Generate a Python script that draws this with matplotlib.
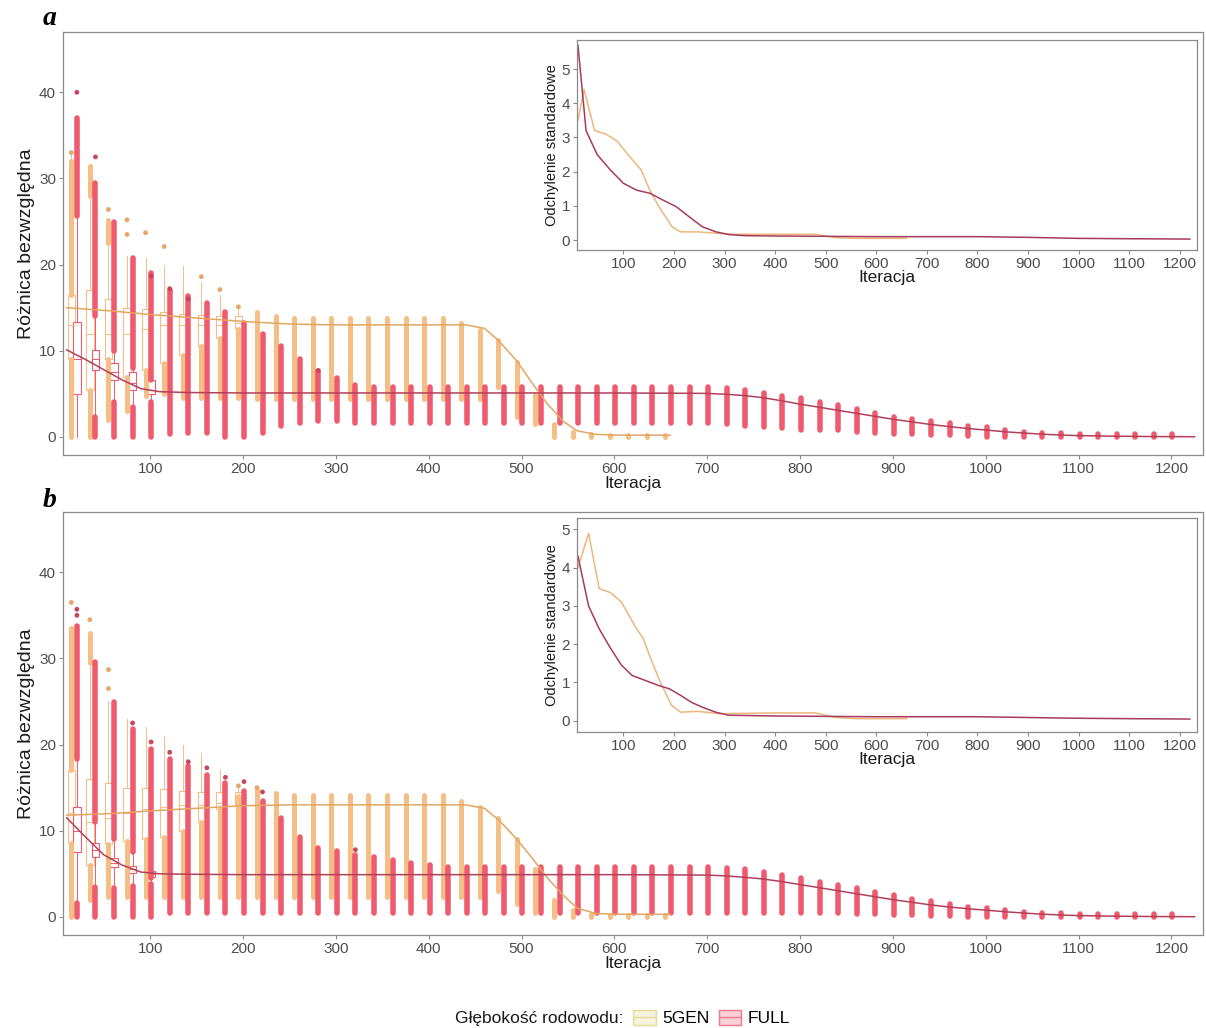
import numpy as np
import matplotlib
matplotlib.use("Agg")
import matplotlib.pyplot as plt
from matplotlib.patches import Patch
from matplotlib.lines import Line2D
from matplotlib.legend_handler import HandlerTuple

plt.rcParams['font.family'] = ['Liberation Sans', 'DejaVu Sans']

# ── dane ──────────────────────────────────────────────────────────────────
GROUPS = ['5GEN', 'FULL']
ITER_FULL = np.arange(20, 1201, 20)
ITER_5GEN = np.arange(20, 661, 20)

# panel a – FULL: zakres gęstych punktów odstających (góra / dół)
A_FULL_TOP = [37.0, 29.5, 25.0, 20.8, 19.0, 17.0, 16.3, 15.5, 14.5, 13.2,
              12.0, 10.5, 9.0, 7.6, 6.8, 6.0, 5.8, 5.8, 5.8, 5.8,
              5.8, 5.8, 5.8, 5.8, 5.8, 5.8, 5.8, 5.8, 5.8, 5.8,
              5.8, 5.8, 5.8, 5.8, 5.8, 5.7, 5.4, 5.1, 4.7, 4.5,
              4.1, 3.7, 3.2, 2.8, 2.3, 2.1, 1.9, 1.6, 1.3, 1.2,
              0.8, 0.6, 0.5, 0.4, 0.35, 0.35, 0.3, 0.3, 0.3, 0.3]
A_FULL_BOT = [25.6, 0.0, 0.0, 0.0, 0.0, 0.3, 0.5, 0.5, 0.0, 0.0,
              0.5, 1.3, 1.6, 1.8, 1.8, 1.6, 1.6, 1.6, 1.6, 1.6,
              1.6, 1.6, 1.6, 1.6, 1.6, 1.6, 1.6, 1.6, 1.6, 1.6,
              1.6, 1.6, 1.6, 1.6, 1.6, 1.5, 1.3, 1.2, 1.0, 0.8,
              0.8, 0.8, 0.6, 0.4, 0.3, 0.3, 0.2, 0.2, 0.1, 0.0,
              0.0, 0.0, 0.0, 0.0, 0.0, 0.0, 0.0, 0.0, 0.0, 0.0]
A_FULL_GAP_ITER = [40, 60, 80, 100]
A_FULL_GAP_LO = [2.3, 4.0, 3.5, 4.0]
A_FULL_GAP_HI = [14.0, 10.0, 8.0, 6.6]
A_FULL_DOT_ITER = [20, 40, 100, 120, 140, 280]
A_FULL_DOT_VAL = [40.0, 32.5, 18.7, 17.2, 16.0, 7.7]
A_FULL_BOX_ITER = [20, 40, 60, 80, 100]
A_FULL_Q1 = [5.0, 7.8, 6.6, 5.5, 5.0]
A_FULL_MED = [9.0, 9.0, 7.5, 6.3, 5.5]
A_FULL_Q3 = [13.3, 10.1, 8.6, 7.5, 6.6]
A_FULL_WLO = [0.0, 2.3, 4.0, 3.5, 4.0]
A_FULL_WHI = [25.6, 14.0, 10.0, 8.0, 6.6]

# panel a – 5GEN
A_5GEN_TOP = [32.0, 31.5, 25.2, 7.0, 7.8, 8.6, 9.5, 10.5, 11.5, 12.5,
              14.5, 14.0, 13.8, 13.8, 13.8, 13.8, 13.8, 13.8, 13.8, 13.8,
              13.8, 13.2, 12.4, 11.3, 8.7, 5.0, 1.5, 0.6, 0.3, 0.2,
              0.2, 0.2, 0.2]
A_5GEN_BOT = [0.0, 0.0, 2.0, 3.0, 4.7, 5.0, 4.5, 4.5, 4.5, 4.5,
              4.4, 4.4, 4.4, 4.4, 4.4, 4.4, 4.4, 4.4, 4.4, 4.4,
              4.4, 4.4, 4.4, 5.8, 2.3, 1.5, 0.0, 0.0, 0.0, 0.0,
              0.0, 0.0, 0.0]
A_5GEN_GAP_ITER = [20, 40, 60]
A_5GEN_GAP_LO = [9.0, 5.5, 9.0]
A_5GEN_GAP_HI = [16.5, 28.0, 22.5]
A_5GEN_DOT_ITER = [20, 60, 80, 80, 100, 120, 160, 180, 200]
A_5GEN_DOT_VAL = [33.0, 26.4, 25.2, 23.5, 23.7, 22.1, 18.6, 17.1, 15.1]
A_5GEN_BOX_ITER = [20, 40, 60, 80, 100, 120, 140, 160, 180, 200]
A_5GEN_Q1 = [9.0, 5.5, 9.0, 7.0, 7.8, 8.6, 9.5, 10.5, 11.5, 12.5]
A_5GEN_MED = [13.0, 12.0, 12.0, 12.0, 12.5, 13.0, 13.0, 13.0, 13.0, 13.2]
A_5GEN_Q3 = [16.5, 17.0, 16.0, 15.0, 14.8, 14.5, 14.3, 14.2, 14.0, 14.0]
A_5GEN_WLO = [0.0, 0.0, 2.0, 3.0, 4.7, 5.0, 4.5, 4.5, 4.5, 4.5]
A_5GEN_WHI = [33.0, 28.0, 22.5, 21.0, 20.8, 20.0, 19.8, 18.0, 16.5, 15.0]

# panel b – FULL
B_FULL_TOP = [33.8, 29.6, 24.9, 21.8, 19.5, 18.3, 17.5, 16.5, 15.5, 14.6,
              13.4, 11.5, 9.3, 8.0, 7.6, 7.2, 7.0, 6.6, 6.3, 6.0,
              5.8, 5.8, 5.8, 5.8, 5.8, 5.8, 5.8, 5.8, 5.8, 5.8,
              5.8, 5.8, 5.8, 5.8, 5.8, 5.7, 5.5, 5.2, 4.9, 4.5,
              4.1, 3.7, 3.3, 2.9, 2.5, 2.1, 1.8, 1.5, 1.2, 1.0,
              0.8, 0.6, 0.5, 0.4, 0.35, 0.3, 0.3, 0.3, 0.3, 0.3]
B_FULL_BOT = [0.0, 0.0, 0.0, 0.0, 0.0, 0.5, 0.5, 0.5, 0.5, 0.5,
              0.5, 0.5, 0.5, 0.5, 0.5, 0.5, 0.5, 0.5, 0.5, 0.5,
              0.5, 0.5, 0.5, 0.5, 0.5, 0.5, 0.5, 0.5, 0.5, 0.5,
              0.5, 0.5, 0.5, 0.5, 0.5, 0.5, 0.5, 0.5, 0.5, 0.4,
              0.4, 0.4, 0.3, 0.3, 0.2, 0.2, 0.1, 0.1, 0.0, 0.0,
              0.0, 0.0, 0.0, 0.0, 0.0, 0.0, 0.0, 0.0, 0.0, 0.0]
B_FULL_GAP_ITER = [20, 40, 60, 80, 100]
B_FULL_GAP_LO = [1.6, 3.5, 3.3, 3.6, 3.8]
B_FULL_GAP_HI = [18.3, 11.0, 9.0, 7.5, 4.5]
B_FULL_DOT_ITER = [20, 20, 80, 100, 120, 140, 160, 180, 200, 220, 320]
B_FULL_DOT_VAL = [35.7, 35.0, 22.5, 20.3, 19.1, 18.0, 17.3, 16.2, 15.7, 14.5, 7.8]
B_FULL_BOX_ITER = [20, 40, 60, 80, 100]
B_FULL_Q1 = [7.5, 7.0, 5.8, 5.1, 4.6]
B_FULL_MED = [10.0, 7.8, 6.3, 5.5, 5.0]
B_FULL_Q3 = [12.8, 8.6, 6.8, 5.9, 5.3]
B_FULL_WLO = [1.6, 3.5, 3.3, 3.6, 3.8]
B_FULL_WHI = [18.3, 11.0, 9.0, 7.5, 4.5]

# panel b – 5GEN
B_5GEN_TOP = [33.5, 33.0, 8.5, 8.8, 9.0, 9.3, 10.0, 11.0, 12.5, 14.0,
              14.8, 14.4, 14.2, 14.2, 14.2, 14.2, 14.2, 14.2, 14.2, 14.2,
              14.2, 13.4, 12.7, 11.5, 9.0, 5.5, 2.0, 0.8, 0.3, 0.2,
              0.2, 0.2, 0.2]
B_5GEN_BOT = [0.0, 2.0, 2.3, 2.3, 2.3, 2.3, 2.3, 2.3, 2.3, 2.3,
              2.3, 2.3, 2.3, 2.3, 2.3, 2.3, 2.3, 2.3, 2.3, 2.3,
              2.3, 2.3, 2.3, 3.0, 1.5, 0.5, 0.0, 0.0, 0.0, 0.0,
              0.0, 0.0, 0.0]
B_5GEN_GAP_ITER = [20, 40]
B_5GEN_GAP_LO = [8.6, 6.0]
B_5GEN_GAP_HI = [17.0, 29.5]
B_5GEN_DOT_ITER = [20, 40, 60, 60, 200, 220]
B_5GEN_DOT_VAL = [36.5, 34.5, 28.7, 26.5, 15.2, 15.0]
B_5GEN_BOX_ITER = [20, 40, 60, 80, 100, 120, 140, 160, 180, 200]
B_5GEN_Q1 = [8.6, 6.0, 8.5, 8.8, 9.0, 9.3, 10.0, 11.0, 12.5, 13.0]
B_5GEN_MED = [12.0, 11.0, 11.5, 12.0, 12.5, 12.8, 13.0, 13.0, 13.2, 13.5]
B_5GEN_Q3 = [17.0, 16.0, 15.5, 15.0, 15.0, 14.8, 14.6, 14.5, 14.5, 14.5]
B_5GEN_WLO = [0.0, 2.0, 2.3, 2.3, 2.3, 2.3, 2.3, 2.3, 2.3, 2.3]
B_5GEN_WHI = [33.5, 29.6, 25.0, 23.0, 22.0, 21.0, 20.0, 19.0, 17.0, 15.5]

# linie średnich
FULL_LINE_ITER = [10, 30, 50, 70, 90, 110, 140, 200, 300, 400,
                  500, 600, 700, 720, 740, 760, 780, 800, 820, 840,
                  860, 880, 900, 920, 940, 960, 980, 1000, 1020, 1040,
                  1060, 1080, 1100, 1140, 1180, 1225]
A_FULL_LINE = [10.1, 9.0, 7.8, 6.6, 5.6, 5.25, 5.15, 5.1, 5.1, 5.1,
               5.1, 5.1, 5.05, 4.95, 4.8, 4.55, 4.2, 3.8, 3.45, 3.1,
               2.75, 2.4, 2.05, 1.75, 1.45, 1.2, 0.98, 0.8, 0.6, 0.45,
               0.32, 0.22, 0.15, 0.08, 0.04, 0.02]
B_FULL_LINE = [11.5, 9.3, 7.2, 6.0, 5.2, 5.0, 4.95, 4.9, 4.9, 4.9,
               4.9, 4.9, 4.85, 4.75, 4.6, 4.4, 4.1, 3.75, 3.4, 3.05,
               2.7, 2.35, 2.0, 1.7, 1.4, 1.15, 0.95, 0.78, 0.6, 0.45,
               0.32, 0.22, 0.15, 0.08, 0.04, 0.02]
GEN5_LINE_ITER = [10, 60, 100, 150, 200, 250, 300, 440, 460, 475,
                  495, 513, 528, 545, 560, 580, 600, 660]
A_5GEN_LINE = [15.0, 14.6, 14.2, 13.8, 13.4, 13.1, 13.0, 13.0, 12.6, 11.2,
               8.8, 6.0, 3.8, 1.8, 0.7, 0.3, 0.2, 0.2]
B_5GEN_LINE = [11.8, 12.0, 12.3, 12.6, 12.9, 13.0, 13.0, 13.0, 12.6, 11.3,
               9.0, 6.6, 4.5, 2.5, 1.0, 0.4, 0.3, 0.3]

# odchylenie standardowe (wstawki)
A_SD_FULL_ITER = [10, 26, 48, 74, 100, 126, 152, 178, 204, 230, 256, 283,
                  309, 340, 400, 500, 600, 700, 800, 900, 1000, 1100, 1220]
A_SD_FULL = [5.7, 3.2, 2.5, 2.05, 1.66, 1.46, 1.37, 1.17, 0.98, 0.68, 0.39, 0.24,
             0.16, 0.13, 0.12, 0.11, 0.1, 0.1, 0.1, 0.08, 0.05, 0.04, 0.03]
A_SD_5GEN_ITER = [10, 22, 43, 65, 87, 109, 135, 152, 170, 196,
                  213, 248, 283, 320, 400, 480, 500, 520, 560, 660]
A_SD_5GEN = [3.5, 4.4, 3.2, 3.1, 2.9, 2.5, 2.05, 1.46, 0.98, 0.39,
             0.24, 0.24, 0.2, 0.17, 0.17, 0.17, 0.12, 0.07, 0.05, 0.05]
B_SD_FULL_ITER = [10, 31, 52, 74, 96, 117, 143, 169, 191, 213, 234, 256,
                  282, 308, 400, 500, 600, 700, 800, 900, 1000, 1100, 1220]
B_SD_FULL = [4.3, 3.0, 2.4, 1.9, 1.45, 1.18, 1.05, 0.92, 0.83, 0.66, 0.48, 0.35,
             0.22, 0.14, 0.12, 0.11, 0.1, 0.1, 0.1, 0.08, 0.06, 0.05, 0.04]
B_SD_5GEN_ITER = [10, 31, 52, 74, 96, 113, 126, 139, 156, 173,
                  195, 213, 247, 290, 400, 480, 520, 560, 660]
B_SD_5GEN = [4.0, 4.9, 3.45, 3.35, 3.1, 2.7, 2.4, 2.15, 1.55, 1.0,
             0.4, 0.22, 0.24, 0.18, 0.2, 0.2, 0.08, 0.05, 0.05]

X_TICKS = [100, 200, 300, 400, 500, 600, 700, 800, 900, 1000, 1100, 1200]

# ── styl ──────────────────────────────────────────────────────────────────
STRIP_C = {'5GEN': '#F4BE84', 'FULL': '#EF5B6E'}
DOT_C = {'5GEN': '#E8A66A', 'FULL': '#C9475E'}
LINE_C = {'5GEN': '#E3A662', 'FULL': '#B3405A'}
SD_C = {'5GEN': '#EDB67C', 'FULL': '#A93A5E'}
KEY_C = {'5GEN': '#E6DC9A', 'FULL': '#EE7A8C'}
OFFSET = {'5GEN': -5, 'FULL': 1}
AX_GREY = '#8a8a8a'
TXT_GREY = '#4d4d4d'

PANELS = {
    'a': {
        '5GEN': dict(it=ITER_5GEN, top=A_5GEN_TOP, bot=A_5GEN_BOT,
                     gap=(A_5GEN_GAP_ITER, A_5GEN_GAP_LO, A_5GEN_GAP_HI),
                     dots=(A_5GEN_DOT_ITER, A_5GEN_DOT_VAL),
                     box=(A_5GEN_BOX_ITER, A_5GEN_WLO, A_5GEN_Q1, A_5GEN_MED, A_5GEN_Q3, A_5GEN_WHI),
                     line=(GEN5_LINE_ITER, A_5GEN_LINE), sd=(A_SD_5GEN_ITER, A_SD_5GEN)),
        'FULL': dict(it=ITER_FULL, top=A_FULL_TOP, bot=A_FULL_BOT,
                     gap=(A_FULL_GAP_ITER, A_FULL_GAP_LO, A_FULL_GAP_HI),
                     dots=(A_FULL_DOT_ITER, A_FULL_DOT_VAL),
                     box=(A_FULL_BOX_ITER, A_FULL_WLO, A_FULL_Q1, A_FULL_MED, A_FULL_Q3, A_FULL_WHI),
                     line=(FULL_LINE_ITER, A_FULL_LINE), sd=(A_SD_FULL_ITER, A_SD_FULL)),
        'sd_ylim': (-0.29, 5.85),
    },
    'b': {
        '5GEN': dict(it=ITER_5GEN, top=B_5GEN_TOP, bot=B_5GEN_BOT,
                     gap=(B_5GEN_GAP_ITER, B_5GEN_GAP_LO, B_5GEN_GAP_HI),
                     dots=(B_5GEN_DOT_ITER, B_5GEN_DOT_VAL),
                     box=(B_5GEN_BOX_ITER, B_5GEN_WLO, B_5GEN_Q1, B_5GEN_MED, B_5GEN_Q3, B_5GEN_WHI),
                     line=(GEN5_LINE_ITER, B_5GEN_LINE), sd=(B_SD_5GEN_ITER, B_SD_5GEN)),
        'FULL': dict(it=ITER_FULL, top=B_FULL_TOP, bot=B_FULL_BOT,
                     gap=(B_FULL_GAP_ITER, B_FULL_GAP_LO, B_FULL_GAP_HI),
                     dots=(B_FULL_DOT_ITER, B_FULL_DOT_VAL),
                     box=(B_FULL_BOX_ITER, B_FULL_WLO, B_FULL_Q1, B_FULL_MED, B_FULL_Q3, B_FULL_WHI),
                     line=(FULL_LINE_ITER, B_FULL_LINE), sd=(B_SD_FULL_ITER, B_SD_FULL)),
        'sd_ylim': (-0.3, 5.3),
    },
}


def style_axes(ax, labelsize):
    for s in ax.spines.values():
        s.set_color(AX_GREY)
        s.set_linewidth(0.9)
    ax.tick_params(colors=AX_GREY, labelcolor=TXT_GREY, labelsize=labelsize,
                   length=3, width=0.8, pad=2)


def draw_main(ax, spec):
    for g in GROUPS:
        d = spec[g]
        off = OFFSET[g]
        c = STRIP_C[g]
        # pudełka (białe wypełnienie, jak w ggplot)
        bi, wlo, q1, med, q3, whi = d['box']
        stats = [dict(whislo=a, q1=b, med=m, q3=e, whishi=f, fliers=[])
                 for a, b, m, e, f in zip(wlo, q1, med, q3, whi)]
        ax.bxp(stats, positions=np.array(bi) + off, widths=8, patch_artist=True,
               showcaps=False, showfliers=False, manage_ticks=False,
               boxprops=dict(facecolor='white', edgecolor=c, linewidth=0.8),
               whiskerprops=dict(color=c, linewidth=0.7),
               medianprops=dict(color=c, linewidth=0.8), zorder=1)
        # gęste punkty odstające -> pionowe pasy
        gap = {it: (lo, hi) for it, lo, hi in zip(*d['gap'])}
        xs, los, his = [], [], []
        for it, top, bot in zip(d['it'], d['top'], d['bot']):
            if it in gap:
                glo, ghi = gap[it]
                if glo > bot:
                    xs.append(it + off); los.append(bot); his.append(glo)
                xs.append(it + off); los.append(ghi); his.append(top)
            else:
                xs.append(it + off); los.append(bot); his.append(top)
        lw = 4.0 if g == 'FULL' else 3.6
        lc = ax.vlines(xs, los, his, colors=c, linewidth=lw, zorder=2)
        lc.set_capstyle('round')
        ax.scatter(np.array(d['dots'][0]) + off, d['dots'][1], s=12,
                   color=DOT_C[g], edgecolors='none', zorder=2.5)
    for g in GROUPS:
        li, lv = spec[g]['line']
        ax.plot(li, lv, color=LINE_C[g], lw=1.1, zorder=3)

    ax.set_xlim(6, 1234)
    ax.set_ylim(-2.1, 47)
    ax.set_xticks(X_TICKS)
    ax.set_yticks([0, 10, 20, 30, 40])
    style_axes(ax, 11)
    ax.set_xlabel('Iteracja', fontsize=12.5, color='#1a1a1a', labelpad=0)
    ax.set_ylabel('Różnica bezwzględna', fontsize=14, color='#1a1a1a', labelpad=3)


def draw_inset(ax, spec):
    for g in GROUPS:
        si, sv = spec[g]['sd']
        ax.plot(si, sv, color=SD_C[g], lw=1.1)
    ax.set_xlim(8, 1234)
    ax.set_ylim(*spec['sd_ylim'])
    ax.set_xticks(X_TICKS)
    ax.set_yticks([0, 1, 2, 3, 4, 5])
    style_axes(ax, 11)
    ax.set_xlabel('Iteracja', fontsize=12.5, color='#1a1a1a', labelpad=-1)
    ax.set_ylabel('Odchylenie standardowe', fontsize=10.5, color='#1a1a1a', labelpad=2)


fig = plt.figure(figsize=(12.06, 10.28), dpi=100)

main_pos = {'a': [0.0522, 0.5574, 0.9453, 0.4115], 'b': [0.0522, 0.0905, 0.9453, 0.4115]}
inset_pos = {'a': [0.4784, 0.7568, 0.5141, 0.2043], 'b': [0.4784, 0.2879, 0.5141, 0.2082]}
label_y = {'a': 0.982, 'b': 0.513}

for key in ['a', 'b']:
    ax = fig.add_axes(main_pos[key])
    draw_main(ax, PANELS[key])
    ins = fig.add_axes(inset_pos[key])
    draw_inset(ins, PANELS[key])
    fig.text(0.035, label_y[key], key, fontsize=20, fontweight='bold', style='italic',
             family=['Liberation Serif', 'DejaVu Serif'], ha='left', va='center')

# legenda
handles = [(Patch(facecolor=KEY_C[g], alpha=0.35, edgecolor='none'),
            Patch(facecolor='none', edgecolor=KEY_C[g], linewidth=1.0),
            Line2D([], [], color=KEY_C[g], lw=1.0)) for g in GROUPS]
fig.text(0.517, 0.0097, 'Głębokość rodowodu:', fontsize=12.5, color='#1a1a1a',
         ha='right', va='center')
fig.legend(handles, GROUPS, loc='center left', bbox_to_anchor=(0.512, 0.0097),
           ncol=2, frameon=False, fontsize=12.5, handlelength=1.3, handleheight=1.0,
           handletextpad=0.4, columnspacing=0.5,
           handler_map={tuple: HandlerTuple(ndivide=1)})

fig.savefig('out.png', dpi=100, facecolor='white')
